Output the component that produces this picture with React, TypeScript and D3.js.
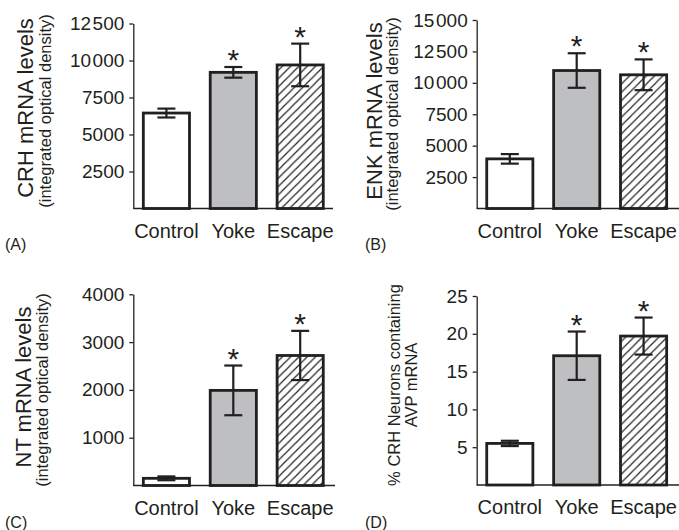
import React, { useEffect, useRef } from 'react';
import * as d3 from 'd3';

const categories = ['Control', 'Yoke', 'Escape'];
const significant = [false, true, true];

const crhMeans = [6450, 9200, 9700];
const crhErrors = [300, 360, 1440];
const crhTicks = [2500, 5000, 7500, 10000, 12500];

const enkMeans = [3950, 10980, 10640];
const enkErrors = [380, 1375, 1225];
const enkTicks = [2500, 5000, 7500, 10000, 12500, 15000];

const ntMeans = [150, 1990, 2720];
const ntErrors = [40, 520, 515];
const ntTicks = [1000, 2000, 3000, 4000];

const avpMeans = [5.5, 17.1, 19.7];
const avpErrors = [0.35, 3.2, 2.45];
const avpTicks = [5, 10, 15, 20, 25];

const FONT = '"Liberation Sans", Arial, Helvetica, sans-serif';
const INK = '#231f20';

const panels = [
  {
    tag: '(A)', means: crhMeans, errors: crhErrors, ticks: crhTicks,
    title: ['CRH mRNA levels'], sub: '(integrated optical density)',
    x0: 133.3, x1: 333, yTop: 23.5, yBase: 208.5,
    titleX: [33], subX: 51, labelY: 108, tagX: 5, tagY: 250
  },
  {
    tag: '(B)', means: enkMeans, errors: enkErrors, ticks: enkTicks,
    title: ['ENK mRNA levels'], sub: '(integrated optical density)',
    x0: 476.7, x1: 679, yTop: 20, yBase: 208.5,
    titleX: [382], subX: 398, labelY: 111, tagX: 365, tagY: 250
  },
  {
    tag: '(C)', means: ntMeans, errors: ntErrors, ticks: ntTicks,
    title: ['NT mRNA levels'], sub: '(integrated optical density)',
    x0: 133.3, x1: 335, yTop: 294.3, yBase: 485.5,
    titleX: [31], subX: 48, labelY: 387, tagX: 5, tagY: 528
  },
  {
    tag: '(D)', means: avpMeans, errors: avpErrors, ticks: avpTicks,
    title: ['% CRH Neurons containing', 'AVP mRNA'], sub: null,
    x0: 476.7, x1: 679, yTop: 296, yBase: 485,
    titleX: [400, 417], subX: 0, labelY: 385, tagX: 365, tagY: 528
  }
];

// 5-digit numbers get a small gap after the thousands, as in the print
const fmt = (v: number) =>
  v >= 10000 ? d3.format(',')(v).replace(',', '\u200A') : String(v);

const App = () => {
  const ref = useRef<SVGSVGElement>(null);

  useEffect(() => {
    const svg = d3.select(ref.current);
    svg.selectAll('*').remove();

    const defs = svg.append('defs');
    const s = 8.3;
    defs
      .append('pattern')
      .attr('id', 'hatch')
      .attr('patternUnits', 'userSpaceOnUse')
      .attr('width', s)
      .attr('height', s)
      .append('path')
      .attr('d', `M0,${s} L${s},0 M-2,2 L2,-2 M${s - 2},${s + 2} L${s + 2},${s - 2}`)
      .attr('stroke', INK)
      .attr('stroke-width', 1.2);

    const fills = ['#ffffff', '#bdbfc1', 'url(#hatch)'];

    panels.forEach(p => {
      const g = svg.append('g').attr('font-family', FONT).attr('fill', INK);
      const maxTick = p.ticks[p.ticks.length - 1];

      const x = d3
        .scaleBand()
        .domain(categories)
        .range([p.x0, p.x0 + 200])
        .paddingInner(0.31)
        .paddingOuter(0.15);

      const y = d3.scaleLinear().domain([0, maxTick]).range([p.yBase, p.yTop]);

      // y axis
      const axis = g
        .append('g')
        .attr('transform', `translate(${p.x0},0)`)
        .call(
          d3.axisLeft(y)
            .tickValues(p.ticks)
            .tickFormat(d => fmt(d as number))
            .tickSizeInner(4)
            .tickSizeOuter(0)
            .tickPadding(5)
        );
      axis.select('.domain').attr('stroke', INK).attr('stroke-width', 1.3);
      axis.selectAll('.tick line').attr('stroke', INK).attr('stroke-width', 1.3);
      axis
        .selectAll('.tick text')
        .attr('fill', INK)
        .attr('font-size', 19)
        .attr('font-family', FONT);

      // bars
      g.append('g')
        .selectAll('rect')
        .data(p.means)
        .join('rect')
        .attr('x', (d, i) => x(categories[i])!)
        .attr('y', d => y(d))
        .attr('width', x.bandwidth())
        .attr('height', d => y(0) - y(d))
        .attr('fill', (d, i) => fills[i])
        .attr('stroke', INK)
        .attr('stroke-width', 2.8);

      // baseline
      g.append('line')
        .attr('x1', p.x0)
        .attr('x2', p.x1)
        .attr('y1', y(0))
        .attr('y2', y(0))
        .attr('stroke', INK)
        .attr('stroke-width', 1.3);

      // error bars
      const eb = g.append('g').attr('stroke', INK).attr('stroke-width', 2.2).attr('fill', 'none');
      p.means.forEach((m, i) => {
        const cx = x(categories[i])! + x.bandwidth() / 2;
        const hi = y(m + p.errors[i]);
        const lo = y(m - p.errors[i]);
        eb.append('line').attr('x1', cx).attr('x2', cx).attr('y1', hi).attr('y2', lo);
        eb.append('line').attr('x1', cx - 9).attr('x2', cx + 9).attr('y1', hi).attr('y2', hi);
        eb.append('line').attr('x1', cx - 9).attr('x2', cx + 9).attr('y1', lo).attr('y2', lo);
        if (significant[i]) {
          g.append('text')
            .attr('x', cx)
            .attr('y', hi + 3)
            .attr('text-anchor', 'middle')
            .attr('font-size', 30)
            .text('*');
        }
      });

      // category labels
      g.append('g')
        .selectAll('text')
        .data(categories)
        .join('text')
        .attr('x', d => x(d)! + x.bandwidth() / 2)
        .attr('y', p.yBase + 29)
        .attr('text-anchor', 'middle')
        .attr('font-size', 20)
        .text(d => d);

      // y titles
      const titleSize = p.title.length > 1 ? 16.5 : 22;
      p.title.forEach((t, k) => {
        g.append('text')
          .attr('transform', `translate(${p.titleX[k]},${p.labelY}) rotate(-90)`)
          .attr('text-anchor', 'middle')
          .attr('font-size', titleSize)
          .text(t);
      });
      if (p.sub) {
        g.append('text')
          .attr('transform', `translate(${p.subX},${p.labelY + 3}) rotate(-90)`)
          .attr('text-anchor', 'middle')
          .attr('font-size', 16.5)
          .text(p.sub);
      }

      // panel tag
      g.append('text')
        .attr('x', p.tagX)
        .attr('y', p.tagY)
        .attr('font-size', 16)
        .text(p.tag);
    });
  }, []);

  return (
    <svg
      ref={ref}
      width={679}
      height={530}
      style={{ position: 'absolute', left: 0, top: 0, background: '#fff' }}
    ></svg>
  );
};

export default App;
